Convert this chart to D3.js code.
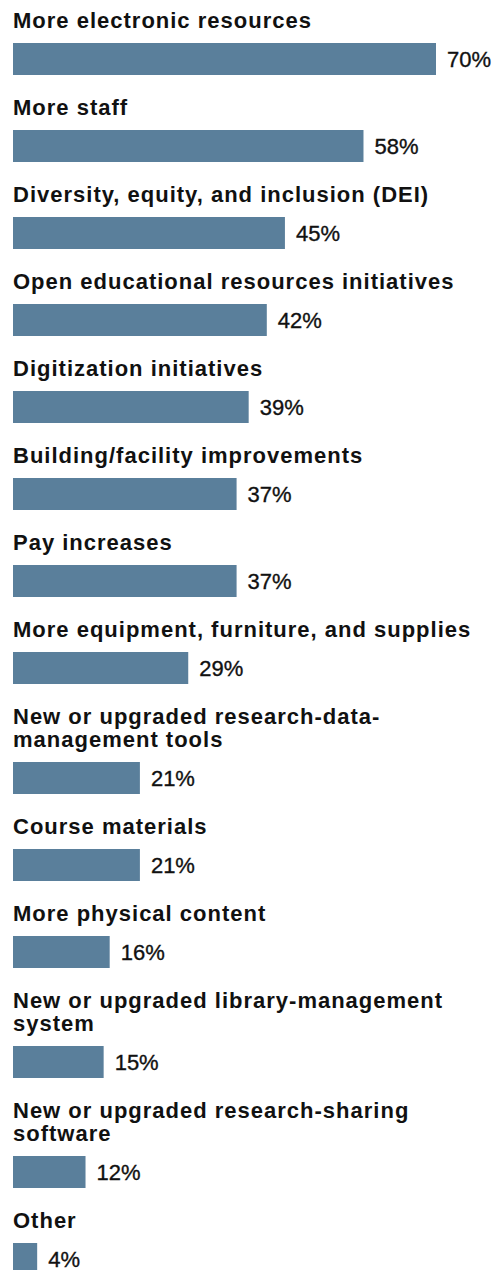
<!DOCTYPE html>
<html>
<head>
<meta charset="utf-8">
<script src="https://cdn.jsdelivr.net/npm/d3@7"></script>
<style>
  html, body { margin: 0; padding: 0; background: #fff; }
  svg { display: block; }
  .cat { font-family: "Liberation Sans", Arial, sans-serif; font-weight: bold; font-size: 22px; letter-spacing: 1px; fill: #111; }
  .val { font-family: "Liberation Sans", Arial, sans-serif; font-size: 22px; fill: #111; stroke: #111; stroke-width: 0.35px; }
</style>
</head>
<body>
<svg id="chart"></svg>
<script>
// Areas where library budgets are going (share of respondents)
const categories = [
  "More electronic resources",
  "More staff",
  "Diversity, equity, and inclusion (DEI)",
  "Open educational resources initiatives",
  "Digitization initiatives",
  "Building/facility improvements",
  "Pay increases",
  "More equipment, furniture, and supplies",
  "New or upgraded research-data-management tools",
  "Course materials",
  "More physical content",
  "New or upgraded library-management system",
  "New or upgraded research-sharing software",
  "Other"
];
const values = [70, 58, 45, 42, 39, 37, 37, 29, 21, 21, 16, 15, 12, 4];

const width = 498, height = 1270;
const left = 13;
const barH = 32;
const rowStep = 87;      // label + bar + gap for a single-line label
const lineH = 23;        // extra height for each wrapped label line
const labelGap = 15;     // baseline of last label line to bar top
const maxLabelW = 482;

const svg = d3.select("#chart").attr("width", width).attr("height", height);

const x = d3.scaleLinear().domain([0, d3.max(values)]).range([left, 436]);

// Measure text to wrap category labels at spaces or hyphens
const probe = svg.append("text").attr("class", "cat").attr("visibility", "hidden");
function textW(s) { probe.text(s); return probe.node().getComputedTextLength(); }
function wrap(label) {
  const tokens = label.match(/[^ -]+[ -]?/g);
  const lines = [];
  let cur = "";
  tokens.forEach(t => {
    const trial = cur + t;
    if (cur && textW(trial.trimEnd()) > maxLabelW) {
      lines.push(cur.trimEnd());
      cur = t;
    } else {
      cur = trial;
    }
  });
  if (cur) lines.push(cur.trimEnd());
  return lines;
}

const rows = [];
let barTop = 43;
categories.forEach((c, i) => {
  const lines = wrap(c);
  if (i > 0) barTop += rowStep + lineH * (lines.length - 1);
  rows.push({ cat: c, value: values[i], lines, barTop });
});
probe.remove();

const g = svg.append("g").selectAll("g").data(rows).join("g");

g.append("text")
  .attr("class", "cat")
  .attr("x", left)
  .attr("y", d => d.barTop - labelGap - lineH * (d.lines.length - 1))
  .selectAll("tspan")
  .data(d => d.lines)
  .join("tspan")
  .attr("x", left)
  .attr("dy", (d, i) => i === 0 ? 0 : lineH)
  .text(d => d);

g.append("rect")
  .attr("x", x(0))
  .attr("y", d => d.barTop)
  .attr("width", d => x(d.value) - x(0))
  .attr("height", barH)
  .attr("fill", "#5a7f9b");

g.append("text")
  .attr("class", "val")
  .attr("x", d => x(d.value) + 11)
  .attr("y", d => d.barTop + barH / 2 + 7.5)
  .text(d => d.value + "%");
</script>
</body>
</html>
